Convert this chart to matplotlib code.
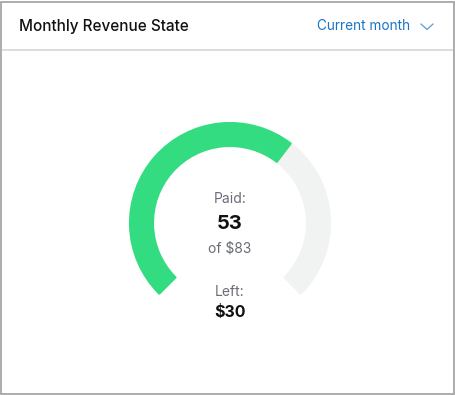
import numpy as np
import matplotlib
matplotlib.use("Agg")
from matplotlib import pyplot as plt
from matplotlib.patches import Wedge, Rectangle

# data
title = "Monthly Revenue State"
period = "Current month"
paid = 53
total = 83
left = total - paid

# gauge geometry (pixels)
W, H = 455, 395
cx, cy = 230, 223
r_out, ring = 100, 23
start, sweep = 225, 270

plt.rcParams['font.family'] = ['Inter', 'DejaVu Sans']

fig = plt.figure(figsize=(W / 100, H / 100), dpi=100)
ax = fig.add_axes([0, 0, 1, 1])
ax.set_xlim(0, W)
ax.set_ylim(0, H)
ax.axis('off')

def Y(y):
	return H - y

# card border and header line
ax.add_patch(Rectangle((1, 1), W - 2.5, H - 2.5, fill=False, ec='#a6a6a6', lw=1.3))
ax.plot([3, W - 3], [Y(50), Y(50)], color='#d6d6d6', lw=1.2)

ax.text(19, Y(26), title, fontsize=11, fontweight='medium', color='#111111', va='center', ha='left')
ax.text(317, Y(26), period, fontsize=9.8, color='#1a74c4', va='center', ha='left')
ax.plot([421, 427, 433], [Y(24), Y(29.5), Y(24)], color='#4a90d0', lw=0.8)

# gauge
frac = paid / total
split = start - sweep * frac
end = start - sweep
ax.add_patch(Wedge((cx, Y(cy)), r_out, end, split, width=ring,
                   fc='#f1f2f2', ec='#f1f2f2', lw=1.5, joinstyle='round'))
ax.add_patch(Wedge((cx, Y(cy)), r_out, split, start, width=ring,
                   fc='#33dc80', ec='#33dc80', lw=1.5, joinstyle='round'))

ax.text(cx, Y(199), "Paid:", fontsize=10, color='#6a6d78', ha='center', va='center')
ax.text(cx, Y(224), str(paid), fontsize=14.5, fontweight='bold', color='#111111', ha='center', va='center')
ax.text(cx, Y(248), "of $%d" % total, fontsize=10, color='#6a6d78', ha='center', va='center')
ax.text(cx, Y(292), "Left:", fontsize=10, color='#6a6d78', ha='center', va='center')
ax.text(cx, Y(312), "$%d" % left, fontsize=11.5, fontweight='bold', color='#111111', ha='center', va='center')

fig.savefig("out.png", dpi=100)
